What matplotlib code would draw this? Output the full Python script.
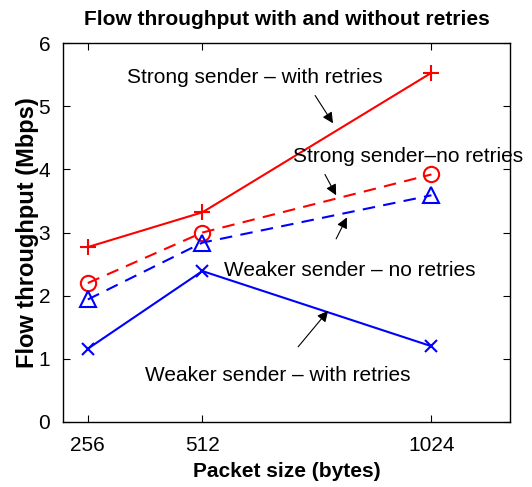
import matplotlib
matplotlib.use("Agg")
import matplotlib.pyplot as plt

plt.rcParams["font.family"] = ["Liberation Sans", "DejaVu Sans"]

# packet sizes and throughput (Mbps)
sizes = [256, 512, 1024]
strong_retry = [2.77, 3.32, 5.53]
strong_noretry = [2.20, 3.00, 3.92]
weak_noretry = [1.94, 2.84, 3.59]
weak_retry = [1.16, 2.39, 1.20]

fig = plt.figure(figsize=(5.32, 4.87), dpi=100)
ax = fig.add_axes([0.118, 0.1335, 0.841, 0.778])

ax.plot(sizes, strong_retry, color="red", lw=1.5, marker="+", ms=11, mew=1.5)
ax.plot(sizes, strong_noretry, color="red", lw=1.5, ls=(0, (6, 4)),
        marker="o", ms=11, mfc="none", mew=1.5)
ax.plot(sizes, weak_noretry, color="blue", lw=1.5, ls=(0, (6, 4)),
        marker="^", ms=12, mfc="none", mew=1.5)
ax.plot(sizes, weak_retry, color="blue", lw=1.5, marker="x", ms=8, mew=1.5)

ax.set_xlim(200, 1200)
ax.set_ylim(0, 6)
ax.set_xticks(sizes)
ax.set_yticks(range(0, 7))
ax.tick_params(direction="in", top=True, right=True, labelsize=15, length=5)
ax.tick_params(axis="x", pad=10)
ax.tick_params(axis="y", pad=9)
for s in ax.spines.values():
    s.set_linewidth(1.0)

ax.set_title("Flow throughput with and without retries", fontsize=15,
             fontweight="bold", pad=13)
ax.set_xlabel("Packet size (bytes)", fontsize=15, fontweight="bold", labelpad=5)
ax.set_ylabel("Flow throughput (Mbps)", fontsize=17, fontweight="bold", labelpad=0)

arr = dict(arrowstyle="-|>", color="k", lw=0.8, mutation_scale=16,
           shrinkA=0, shrinkB=0)
ax.annotate("", xy=(804, 4.73), xytext=(764, 5.17), arrowprops=arr)
ax.annotate("", xy=(811, 3.59), xytext=(786, 3.92), arrowprops=arr)
ax.annotate("", xy=(835, 3.24), xytext=(811, 2.90), arrowprops=arr)
ax.annotate("", xy=(793, 1.76), xytext=(726, 1.19), arrowprops=arr)

ax.text(629, 5.46, "Strong sender \u2013 with retries", fontsize=15,
        ha="center", va="center")
ax.text(972, 4.21, "Strong sender\u2013no retries", fontsize=15,
        ha="center", va="center")
ax.text(842, 2.40, "Weaker sender \u2013 no retries", fontsize=15,
        ha="center", va="center")
ax.text(681, 0.74, "Weaker sender \u2013 with retries", fontsize=15,
        ha="center", va="center")

fig.savefig("out.png", dpi=100)
